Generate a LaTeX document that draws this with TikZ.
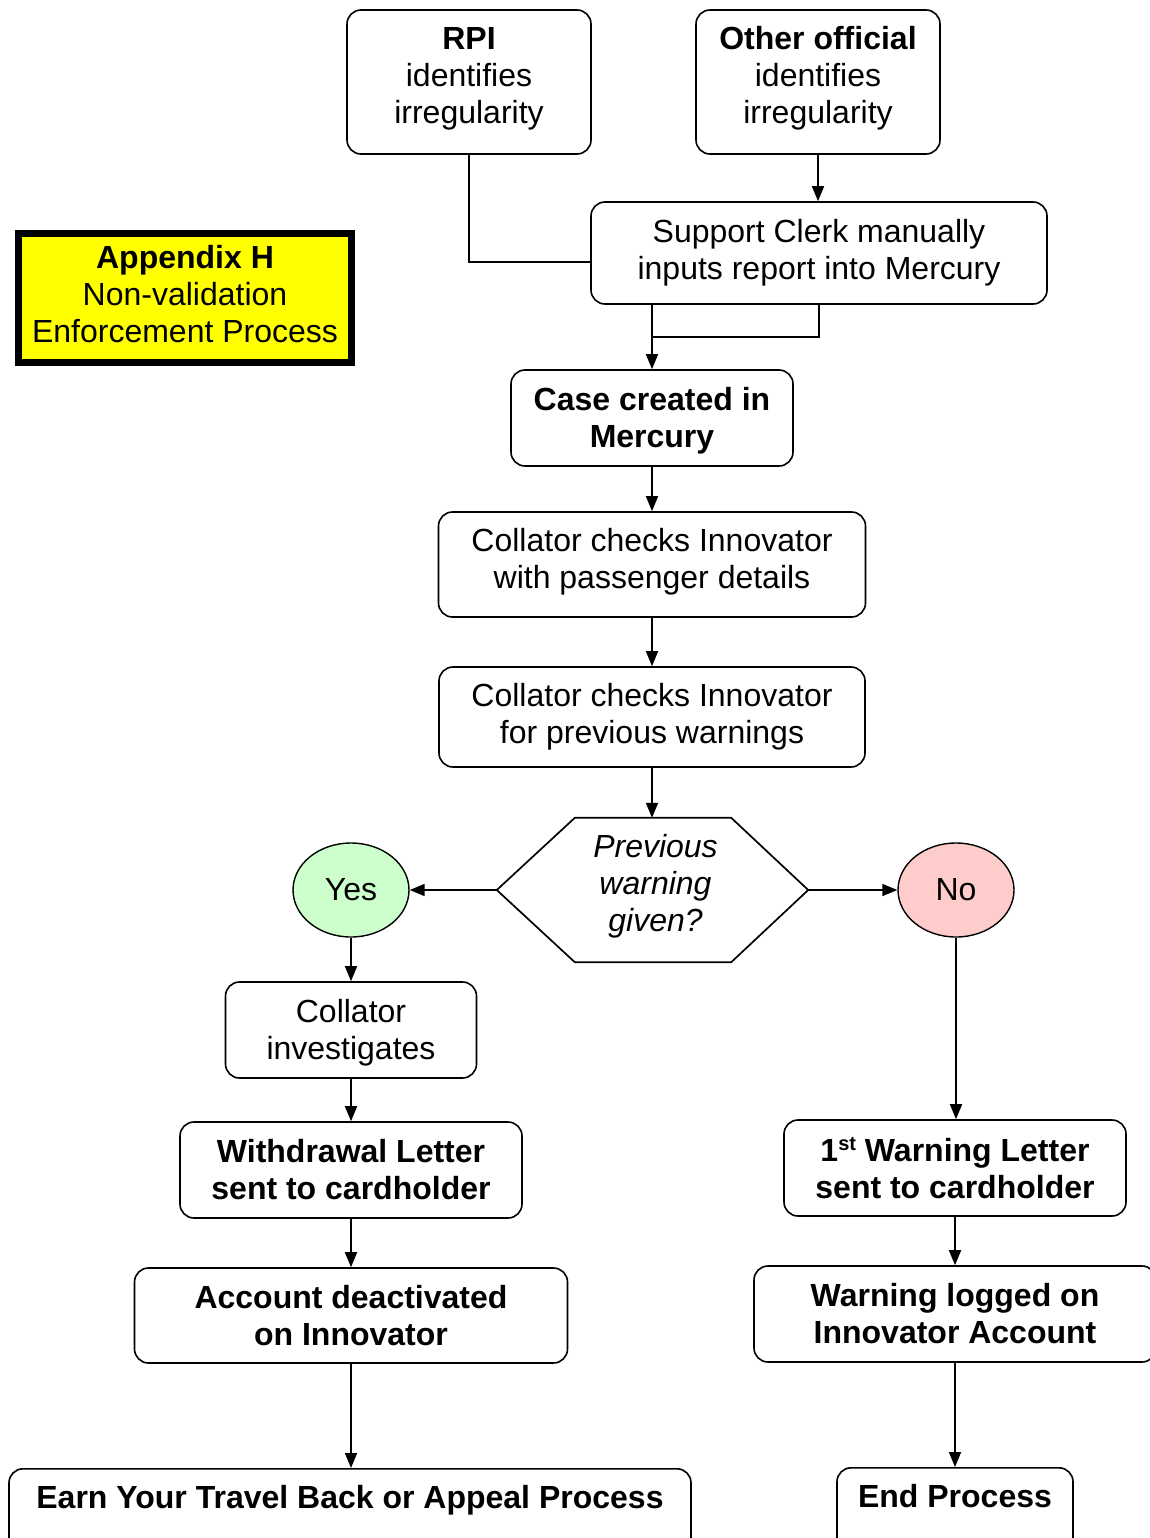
\documentclass[tikz,border=0pt]{standalone}
\usepackage{fontspec}
\setmainfont{Liberation Sans}
\usetikzlibrary{arrows.meta,shapes.geometric}
\definecolor{yesgreen}{HTML}{CCFFCC}
\definecolor{nopink}{HTML}{FFCCCC}
\definecolor{appyellow}{HTML}{FFFF00}
\newcommand{\liftbox}[2]{\raisebox{#1}[\height][\depth]{\begin{tabular}{@{}c@{}}#2\end{tabular}}}
\newcommand{\supst}{\raisebox{11pt}{\fontsize{20}{20}\selectfont st}}
\begin{document}
\begin{tikzpicture}[x=1pt,y=-1pt,
  every node/.style={font=\fontsize{32}{37}\selectfont, align=center, inner sep=0pt},
  box/.style={draw, line width=1.6pt, rounded corners=14pt},
  ln/.style={line width=1.7pt},
  arr/.style={line width=1.7pt, -{Triangle[length=15pt,width=12pt]}},
  circ/.style={draw, ellipse, line width=1.4pt, minimum width=116pt, minimum height=94pt}]
\useasboundingbox (0,0) rectangle (1149,1538);
% nodes
\node[box, minimum width=244pt, minimum height=144pt] (rpi) at (469,82) {\liftbox{3pt}{\textbf{RPI}\\identifies\\irregularity}};
\node[box, minimum width=244pt, minimum height=144pt] (oth) at (818,82) {\liftbox{3pt}{\textbf{Other official}\\identifies\\irregularity}};
\node[draw, line width=7pt, fill=appyellow, minimum width=333pt, minimum height=129pt] (app) at (185,298) {\liftbox{0pt}{\textbf{Appendix H}\\Non-validation\\Enforcement Process}};
\node[box, minimum width=456pt, minimum height=102pt] (clerk) at (819,253) {Support Clerk manually\\inputs report into Mercury};
\node[box, minimum width=282pt, minimum height=96pt] (case) at (652,418) {\liftbox{-4pt}{\textbf{Case created in}\\\textbf{Mercury}}};
\node[box, minimum width=427pt, minimum height=105pt] (col1) at (652,564.5) {\liftbox{2pt}{Collator checks Innovator\\with passenger details}};
\node[box, minimum width=426pt, minimum height=100pt] (col2) at (652,717) {Collator checks Innovator\\for previous warnings};
\node[minimum width=311pt, minimum height=144pt] (dec) at (652.5,890) {\hspace{6pt}\liftbox{3pt}{\itshape Previous\\\itshape warning\\\itshape given?}};
\draw[ln] (dec.west) -- ([xshift=78pt]dec.north west) -- ([xshift=-77pt]dec.north east) -- (dec.east) -- ([xshift=-77pt]dec.south east) -- ([xshift=78pt]dec.south west) -- cycle;
\node[circ, fill=yesgreen] (yes) at (351,890) {Yes};
\node[circ, fill=nopink] (no) at (956,890) {No};
\node[box, minimum width=251pt, minimum height=96pt] (inv) at (351,1030) {\liftbox{-4pt}{Collator\\investigates}};
\node[box, minimum width=342pt, minimum height=96pt] (wdr) at (351,1170) {\textbf{Withdrawal Letter}\\\textbf{sent to cardholder}};
\node[box, minimum width=433pt, minimum height=95pt] (acc) at (351,1315.5) {\textbf{Account deactivated}\\\textbf{on Innovator}};
\node[box, anchor=north, minimum width=682pt, text height=40pt, text depth=60pt] (earn) at (350,1468) {\textbf{Earn Your Travel Back or Appeal Process}};
\node[box, minimum width=342pt, minimum height=96pt] (warn) at (955,1168) {\textbf{1\supst{} Warning Letter}\\\textbf{sent to cardholder}};
\node[box, minimum width=402pt, minimum height=96pt] (wlog) at (955,1314) {\textbf{Warning logged on}\\\textbf{Innovator Account}};
\node[box, anchor=north, minimum width=236pt, text height=40pt, text depth=60pt] (endp) at (955,1467) {\textbf{End Process}};
% connectors
\coordinate (jr) at (591,262);
\coordinate (jc) at (652,337);
\draw[ln] (rpi.south) |- (jr);
\draw[arr] (oth.south) -- (oth.south |- clerk.north);
\draw[ln] (clerk.south) |- (jc);
\draw[arr] (clerk.south -| case.north) -- (case.north);
\draw[arr] (case.south) -- (case.south |- col1.north);
\draw[arr] (col1.south) -- (col1.south |- col2.north);
\draw[arr] (col2.south) -- (col2.south |- dec.north);
\draw[arr] (dec.west) -- (yes.east);
\draw[arr] (dec.east) -- (no.west);
\draw[arr] (yes.south) -- (yes.south |- inv.north);
\draw[arr] (inv.south) -- (inv.south |- wdr.north);
\draw[arr] (wdr.south) -- (wdr.south |- acc.north);
\draw[arr] (acc.south) -- (acc.south |- earn.north);
\draw[arr] (no.south) -- (no.south |- warn.north);
\draw[arr] (warn.south) -- (warn.south |- wlog.north);
\draw[arr] (wlog.south) -- (wlog.south |- endp.north);
\end{tikzpicture}
\end{document}
